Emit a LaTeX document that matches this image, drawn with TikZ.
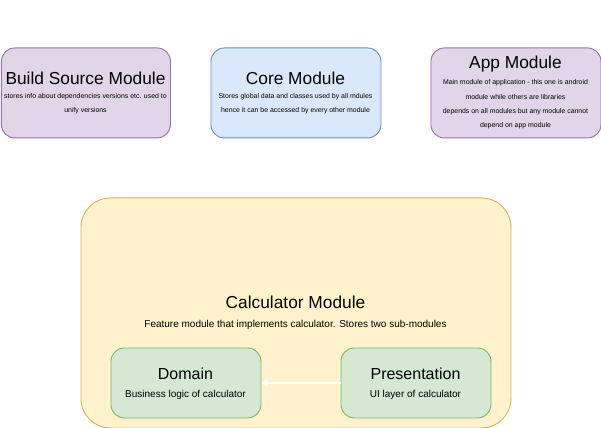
\documentclass[tikz,border=0pt]{standalone}
\usepackage{fontspec}
\setmainfont{Liberation Sans}
\usetikzlibrary{arrows.meta}
\definecolor{purpfill}{HTML}{E1D5E7}
\definecolor{purpline}{HTML}{9673A6}
\definecolor{bluefill}{HTML}{DAE8FC}
\definecolor{blueline}{HTML}{6C8EBF}
\definecolor{yelfill}{HTML}{FFF2CC}
\definecolor{yelline}{HTML}{D6B656}
\definecolor{grnfill}{HTML}{D5E8D4}
\definecolor{grnline}{HTML}{82B366}
\tikzset{
  box/.style={draw, line width=0.7pt, rounded corners=10pt},
  ttl/.style={font=\fontsize{13}{15}\selectfont, inner sep=0pt, anchor=center},
  sml/.style={font=\fontsize{5.2}{6}\selectfont, inner sep=0pt, anchor=center},
  mid/.style={font=\fontsize{7.5}{9}\selectfont, inner sep=0pt, anchor=center},
  sub/.style={font=\fontsize{12}{14}\selectfont, inner sep=0pt, anchor=center},
}
\begin{document}
\begin{tikzpicture}[x=0.75pt,y=-0.75pt]
\useasboundingbox (0,0) rectangle (601,428);
% top boxes
\node[box, fill=purpfill, draw=purpline, minimum width=169*0.75pt, minimum height=90*0.75pt, anchor=north west] (build) at (1,47.5) {};
\node[ttl] (buildt) at (85.5,78) {Build Source Module};
\node[sml] (build1) at (85.5,97) {stores info about dependencies versions etc. used to};
\node[sml] (build2) at (85.5,111) {unify versions};

\node[box, fill=bluefill, draw=blueline, minimum width=170*0.75pt, minimum height=90*0.75pt, anchor=north west] (core) at (210.5,47.5) {};
\node[ttl] (coret) at (295.5,78) {Core Module};
\node[sml] (core1) at (295.5,97) {Stores global data and classes used by all mdules};
\node[sml] (core2) at (295.5,111) {hence it can be accessed by every other module};

\node[box, fill=purpfill, draw=purpline, minimum width=170*0.75pt, minimum height=90*0.75pt, anchor=north west] (app) at (430.5,47.5) {};
\node[ttl] (appt) at (515.5,64) {App Module};
\node[sml] (app1) at (515.5,83) {Main module of application - this one is android};
\node[sml] (app2) at (515.5,97.5) {module while others are libraries};
\node[sml] (app3) at (515.5,112) {depends on all modules but any module cannot};
\node[sml] (app4) at (515.5,126) {depend on app module};

% calculator
\node[draw, line width=0.7pt, rounded corners=22pt, fill=yelfill, draw=yelline, minimum width=430*0.75pt, minimum height=230*0.75pt, anchor=north west] (calc) at (80.5,197.5) {};
\node[ttl] (calct) at (295.5,302) {Calculator Module};
\node[mid] (calcs) at (295.5,324.5) {Feature module that implements calculator. Stores two sub-modules};

\node[box, fill=grnfill, draw=grnline, minimum width=150*0.75pt, minimum height=70*0.75pt, anchor=north west] (dom) at (110.5,347.5) {};
\node[sub] (domt) at (185.5,373.5) {Domain};
\node[mid] (doms) at (185.5,394.5) {Business logic of calculator};

\node[box, fill=grnfill, draw=grnline, minimum width=150*0.75pt, minimum height=70*0.75pt, anchor=north west] (pres) at (340.5,347.5) {};
\node[sub] (prest) at (415.5,373.5) {Presentation};
\node[mid] (press) at (415.5,394.5) {UI layer of calculator};

\draw[white, line width=1pt, -{Stealth[length=5pt,width=6pt]}] (pres.west) -- (dom.east);
\end{tikzpicture}
\end{document}
